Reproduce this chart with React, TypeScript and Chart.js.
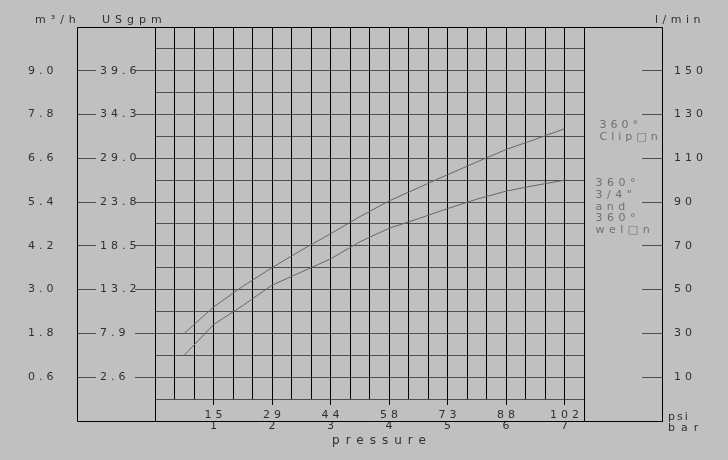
import { useEffect, useRef } from 'react';
import { Chart, registerables } from 'chart.js';

Chart.register(...registerables);

// ---- data (pressure in bar, flow in l/min) ----
const pressureBar = [0.5, 1, 1.5, 2, 2.5, 3, 3.5, 4, 4.5, 5, 5.5, 6, 6.5, 7];
const clipOnLmin = [30, 42, 51.5, 60, 68, 75.5, 83.3, 90.5, 96.5, 102.5, 108.3, 114, 118.7, 123.5];
const weldOnLmin = [20, 34, 42.7, 52, 58, 64, 71.8, 78, 82.4, 87, 91.3, 95, 97.6, 100];

// ---- axes / ticks ----
const flowMax = 170;
const flowGridLmin = [0, 10, 20, 30, 40, 50, 60, 70, 80, 90, 100, 110, 120, 130, 140, 150, 160, 170];
const flowTickLmin = [10, 30, 50, 70, 90, 110, 130, 150];
const m3hLabels = ['0.6', '1.8', '3.0', '4.2', '5.4', '6.6', '7.8', '9.0'];
const usgpmLabels = ['2.6', '7.9', '13.2', '18.5', '23.8', '29.0', '34.3', '39.6'];
const lminLabels = ['10', '30', '50', '70', '90', '110', '130', '150'];
const barTicks = [1, 2, 3, 4, 5, 6, 7];
const psiLabels = ['15', '29', '44', '58', '73', '88', '102'];
const pressureMax = 22 / 3;
const pressureGridSteps = 22;

const clipOnLabel = ['360°', 'Clip□n'];
const weldOnLabel = ['360°', '3/4"', 'and', '360°', 'wel□n'];

const FONT = "'DejaVu Sans'";
const BG = '#c0c0c0';
const TXT = '#303030';
const GRID = '#505050';
const LINE = '#686868';
const LABEL = '#707070';
const NONE = 'rgba(0,0,0,0)';

const tickFont = { family: FONT, size: 11, lineHeight: 1 };

function spaced(ctx: CanvasRenderingContext2D, text: string, x: number, y: number, spacing: number, align: 'left' | 'center' | 'right' = 'left') {
  (ctx as any).letterSpacing = spacing + 'px';
  ctx.textAlign = 'left';
  const w = ctx.measureText(text).width - spacing;
  let sx = x;
  if (align === 'center') sx = x - w / 2;
  else if (align === 'right') sx = x - w;
  ctx.fillText(text, sx, y);
}

const al = (v: number) => Math.round(v - 0.5) + 0.5;

const decor = {
  id: 'decor',
  beforeDraw(chart: any) {
    const ctx = chart.ctx;
    ctx.save();
    ctx.fillStyle = BG;
    ctx.fillRect(0, 0, chart.width, chart.height);
    ctx.restore();
    ctx.letterSpacing = '4px';
  },
  beforeDatasetsDraw(chart: any) {
    const { ctx, chartArea: a, scales } = chart;
    const xL = scales.yM3.right;
    const xR = scales.yLmin.left + scales.yLmin.options.grid.tickLength;
    const yB = a.bottom + 22;
    ctx.save();
    ctx.strokeStyle = '#000';
    ctx.lineWidth = 1;
    ctx.beginPath();
    ctx.moveTo(al(xL), al(a.top));
    ctx.lineTo(al(xR), al(a.top));
    ctx.moveTo(al(xL), al(yB));
    ctx.lineTo(al(xR) + 0.5, al(yB));
    ctx.moveTo(al(xL), al(a.top));
    ctx.lineTo(al(xL), al(yB));
    ctx.moveTo(al(xR), al(a.top));
    ctx.lineTo(al(xR), al(yB));
    ctx.moveTo(al(a.left), al(a.top));
    ctx.lineTo(al(a.left), al(yB));
    ctx.moveTo(al(a.right), al(a.top));
    ctx.lineTo(al(a.right), al(yB));
    ctx.stroke();
    ctx.restore();
  },
  afterDraw(chart: any) {
    const { ctx, chartArea: a, scales } = chart;
    const xR = scales.yLmin.left + scales.yLmin.options.grid.tickLength;
    ctx.save();
    ctx.fillStyle = TXT;
    ctx.textBaseline = 'alphabetic';
    ctx.font = `11px ${FONT}`;
    spaced(ctx, 'm³/h', scales.yM3.left + 7, a.top - 4, 5);
    spaced(ctx, 'USgpm', scales.yUS.right + 6, a.top - 4, 5);
    spaced(ctx, 'l/min', xR - 7, a.top - 4, 4.5);
    spaced(ctx, 'psi', xR + 6, a.bottom + 21, 2);
    spaced(ctx, 'bar', xR + 6, a.bottom + 31.5, 6);
    ctx.font = `12px ${FONT}`;
    spaced(ctx, 'pressure', (a.left + a.right) / 2 + 9.5, a.bottom + 45, 6, 'center');

    ctx.font = `11px ${FONT}`;
    ctx.fillStyle = LABEL;
    const m0 = chart.getDatasetMeta(0).data;
    const p0 = m0[m0.length - 1];
    clipOnLabel.forEach((t, i) => spaced(ctx, t, p0.x + 35, p0.y - 1 + i * 12, 4));
    const m1 = chart.getDatasetMeta(1).data;
    const p1 = m1[m1.length - 1];
    weldOnLabel.forEach((t, i) => spaced(ctx, t, p1.x + 31, p1.y + 6 + i * 11.7, 4.5));
    ctx.restore();
    ctx.letterSpacing = '0px';
  },
};

export default function App() {
  const ref = useRef<HTMLCanvasElement | null>(null);
  useEffect(() => {
    document.body.style.margin = '0';
    document.body.style.background = BG;
    const canvas = ref.current;
    if (!canvas) return;
    const xGrid: number[] = [];
    for (let i = 0; i <= pressureGridSteps; i++) xGrid.push(i / 3);
    const toPts = (ys: number[]) => pressureBar.map((p, i) => ({ x: p, y: ys[i] }));
    const chart = new Chart(canvas, {
      type: 'line',
      data: {
        datasets: [
          { data: toPts(clipOnLmin), borderColor: LINE, borderWidth: 1, pointRadius: 0, tension: 0, yAxisID: 'y', xAxisID: 'x' },
          { data: toPts(weldOnLmin), borderColor: LINE, borderWidth: 1, pointRadius: 0, tension: 0, yAxisID: 'y', xAxisID: 'x' },
        ],
      },
      options: {
        responsive: false,
        animation: false,
        devicePixelRatio: 1,
        layout: { padding: { left: 28, top: 27, right: 0, bottom: 0 } },
        plugins: { legend: { display: false }, tooltip: { enabled: false } },
        scales: {
          x: {
            type: 'linear',
            position: 'bottom',
            min: 0,
            max: pressureMax,
            afterBuildTicks: (s: any) => { s.ticks = xGrid.map((v) => ({ value: v })); },
            afterFit: (s: any) => { s.height = 61; },
            grid: {
              color: '#000',
              lineWidth: 1,
              z: -0.5,
              tickLength: 6,
              tickColor: (c: any) => (c.tick && barTicks.includes(c.tick.value) ? '#000' : NONE),
            },
            border: { display: false },
            ticks: {
              autoSkip: false,
              maxRotation: 0,
              minRotation: 0,
              padding: 5,
              labelOffset: 2,
              color: TXT,
              font: tickFont,
              callback: (v: any) => {
                const i = barTicks.indexOf(v);
                return i >= 0 ? [psiLabels[i], String(barTicks[i])] : '';
              },
            },
          },
          y: {
            type: 'linear',
            position: 'left',
            weight: 1,
            min: 0,
            max: flowMax,
            afterBuildTicks: (s: any) => { s.ticks = flowGridLmin.map((v) => ({ value: v })); },
            afterFit: (s: any) => { s.width = 59; },
            grid: {
              color: GRID,
              lineWidth: 1,
              tickLength: 20,
              tickColor: (c: any) => (c.tick && flowTickLmin.includes(c.tick.value) ? GRID : NONE),
            },
            border: { display: true, color: '#000' },
            ticks: { display: false },
          },
          yUS: {
            type: 'linear',
            position: 'left',
            weight: 2,
            min: 0,
            max: flowMax,
            afterBuildTicks: (s: any) => { s.ticks = flowTickLmin.map((v) => ({ value: v })); },
            afterFit: (s: any) => { s.width = 19; },
            grid: { drawOnChartArea: false, color: GRID, tickLength: 19 },
            border: { display: false },
            ticks: {
              mirror: true,
              crossAlign: 'near',
              padding: 4,
              color: TXT,
              font: tickFont,
              callback: (_v: any, i: number) => usgpmLabels[i],
            },
          },
          yM3: {
            type: 'linear',
            position: 'left',
            weight: 3,
            min: 0,
            max: flowMax,
            afterBuildTicks: (s: any) => { s.ticks = flowTickLmin.map((v) => ({ value: v })); },
            afterFit: (s: any) => { s.width = 49; },
            grid: { display: false },
            border: { display: false },
            ticks: {
              crossAlign: 'far',
              color: TXT,
              font: tickFont,
              callback: (_v: any, i: number) => m3hLabels[i],
            },
          },
          yGap: {
            type: 'linear',
            position: 'right',
            weight: 1,
            min: 0,
            max: flowMax,
            afterFit: (s: any) => { s.width = 58; },
            grid: { display: false },
            border: { display: false },
            ticks: { display: false },
          },
          yLmin: {
            type: 'linear',
            position: 'right',
            weight: 2,
            min: 0,
            max: flowMax,
            afterBuildTicks: (s: any) => { s.ticks = flowTickLmin.map((v) => ({ value: v })); },
            afterFit: (s: any) => { s.width = 86; },
            grid: { drawOnChartArea: false, color: GRID, tickLength: 20 },
            border: { display: false },
            ticks: {
              crossAlign: 'near',
              padding: 12,
              color: TXT,
              font: tickFont,
              callback: (_v: any, i: number) => lminLabels[i],
            },
          },
        },
      } as any,
      plugins: [decor as any],
    });
    return () => chart.destroy();
  }, []);
  return (
    <div style={{ width: 728, height: 460 }}>
      <canvas ref={ref} width={728} height={460} style={{ display: 'block' }} />
    </div>
  );
}
